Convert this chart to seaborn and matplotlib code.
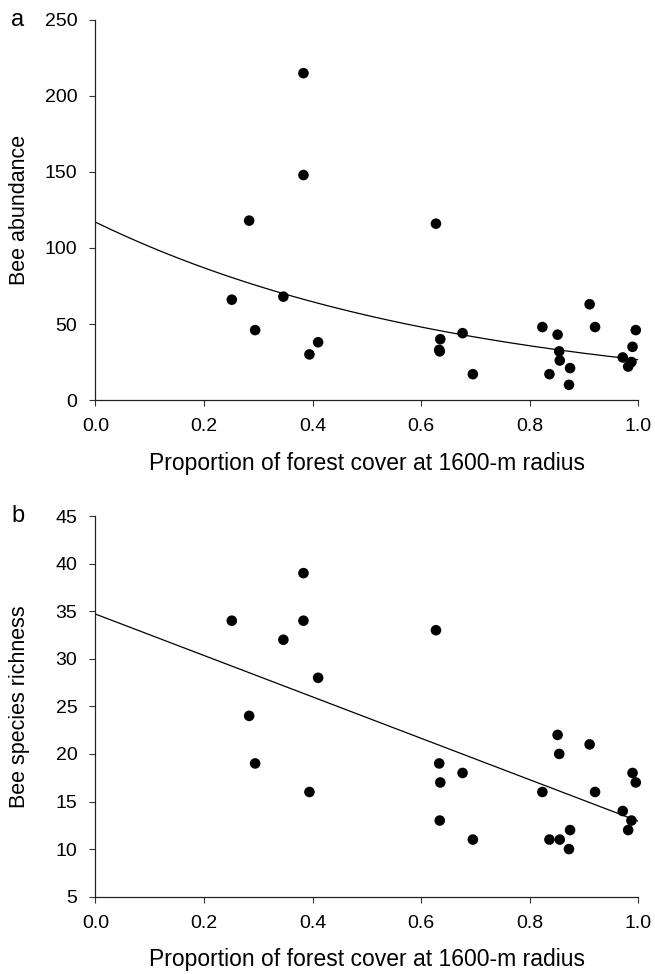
import numpy as np
import pandas as pd
import seaborn as sns
import matplotlib.pyplot as plt

# proportion of forest cover at 1600 m, one value per site
forest_cover = [0.251, 0.283, 0.294, 0.346, 0.383, 0.383, 0.394, 0.410,
                0.627, 0.633, 0.634, 0.635, 0.676, 0.695,
                0.823, 0.836, 0.851, 0.854, 0.855, 0.872, 0.874,
                0.910, 0.920, 0.971, 0.981, 0.987, 0.989, 0.995]
bee_abundance = [66, 118, 46, 68, 215, 148, 30, 38,
                 116, 33, 32, 40, 44, 17,
                 48, 17, 43, 32, 26, 10, 21,
                 63, 48, 28, 22, 25, 35, 46]
bee_richness = [34, 24, 19, 32, 39, 34, 16, 28,
                33, 19, 13, 17, 18, 11,
                16, 11, 22, 20, 11, 10, 12,
                21, 16, 14, 12, 13, 18, 17]

# exponential fit shown in panel a: y = a * exp(b * x)
abund_fit_a = 117
abund_fit_b = -1.485

df = pd.DataFrame({"cover": forest_cover,
                   "abundance": bee_abundance,
                   "richness": bee_richness})

sns.set_style("ticks")
plt.rcParams["font.family"] = ["Liberation Sans", "DejaVu Sans"]
plt.rcParams["font.size"] = 14
for k in ["text.color", "axes.labelcolor", "xtick.color", "ytick.color"]:
    plt.rcParams[k] = "black"

fig = plt.figure(figsize=(6.55, 9.74), dpi=100)
ax1 = fig.add_axes([0.1458, 0.5893, 0.829, 0.3902])
ax2 = fig.add_axes([0.1458, 0.0794, 0.829, 0.3908])

xlabel = "Proportion of forest cover at 1600-m radius"

# panel a
ax1.set_xlim(0, 1)
ax1.set_ylim(0, 250)
sns.scatterplot(data=df, x="cover", y="abundance", ax=ax1,
                color="black", s=58, edgecolor="none", zorder=3, clip_on=False)
xs = np.linspace(0, 1, 200)
fit = pd.DataFrame({"x": xs, "y": abund_fit_a * np.exp(abund_fit_b * xs)})
sns.lineplot(data=fit, x="x", y="y", ax=ax1, color="black", lw=0.9)
ax1.set_yticks(range(0, 251, 50))
ax1.set_ylabel("Bee abundance", fontsize=15.5)

# panel b
ax2.set_xlim(0, 1)
ax2.set_ylim(5, 45)
sns.regplot(data=df, x="cover", y="richness", ax=ax2, ci=None, truncate=False,
            scatter_kws=dict(color="black", s=58, edgecolors="none", alpha=1,
                             zorder=3, clip_on=False),
            line_kws=dict(color="black", lw=0.9))
ax2.set_yticks(range(5, 46, 5))
ax2.set_ylabel("Bee species richness", fontsize=15.5)

for ax, lab in [(ax1, "a"), (ax2, "b")]:
    ax.set_xticks(np.arange(0, 1.01, 0.2))
    ax.set_xticklabels([f"{t:.1f}" for t in np.arange(0, 1.01, 0.2)])
    ax.set_xlabel(xlabel, fontsize=16.5, labelpad=12)
    ax.set_xlim(0, 1)
    ax.yaxis.set_label_coords(-0.121, 0.5)
    ax.tick_params(direction="out", length=4, width=0.8, color="#333333",
                   labelsize=14, pad=9)
    for sp in ["left", "bottom"]:
        ax.spines[sp].set_linewidth(0.9)
        ax.spines[sp].set_color("#222222")
    sns.despine(ax=ax)
    ax.text(-0.155, 1.0, lab, transform=ax.transAxes, fontsize=17,
            ha="left", va="center")

fig.savefig("out.png", dpi=100)
